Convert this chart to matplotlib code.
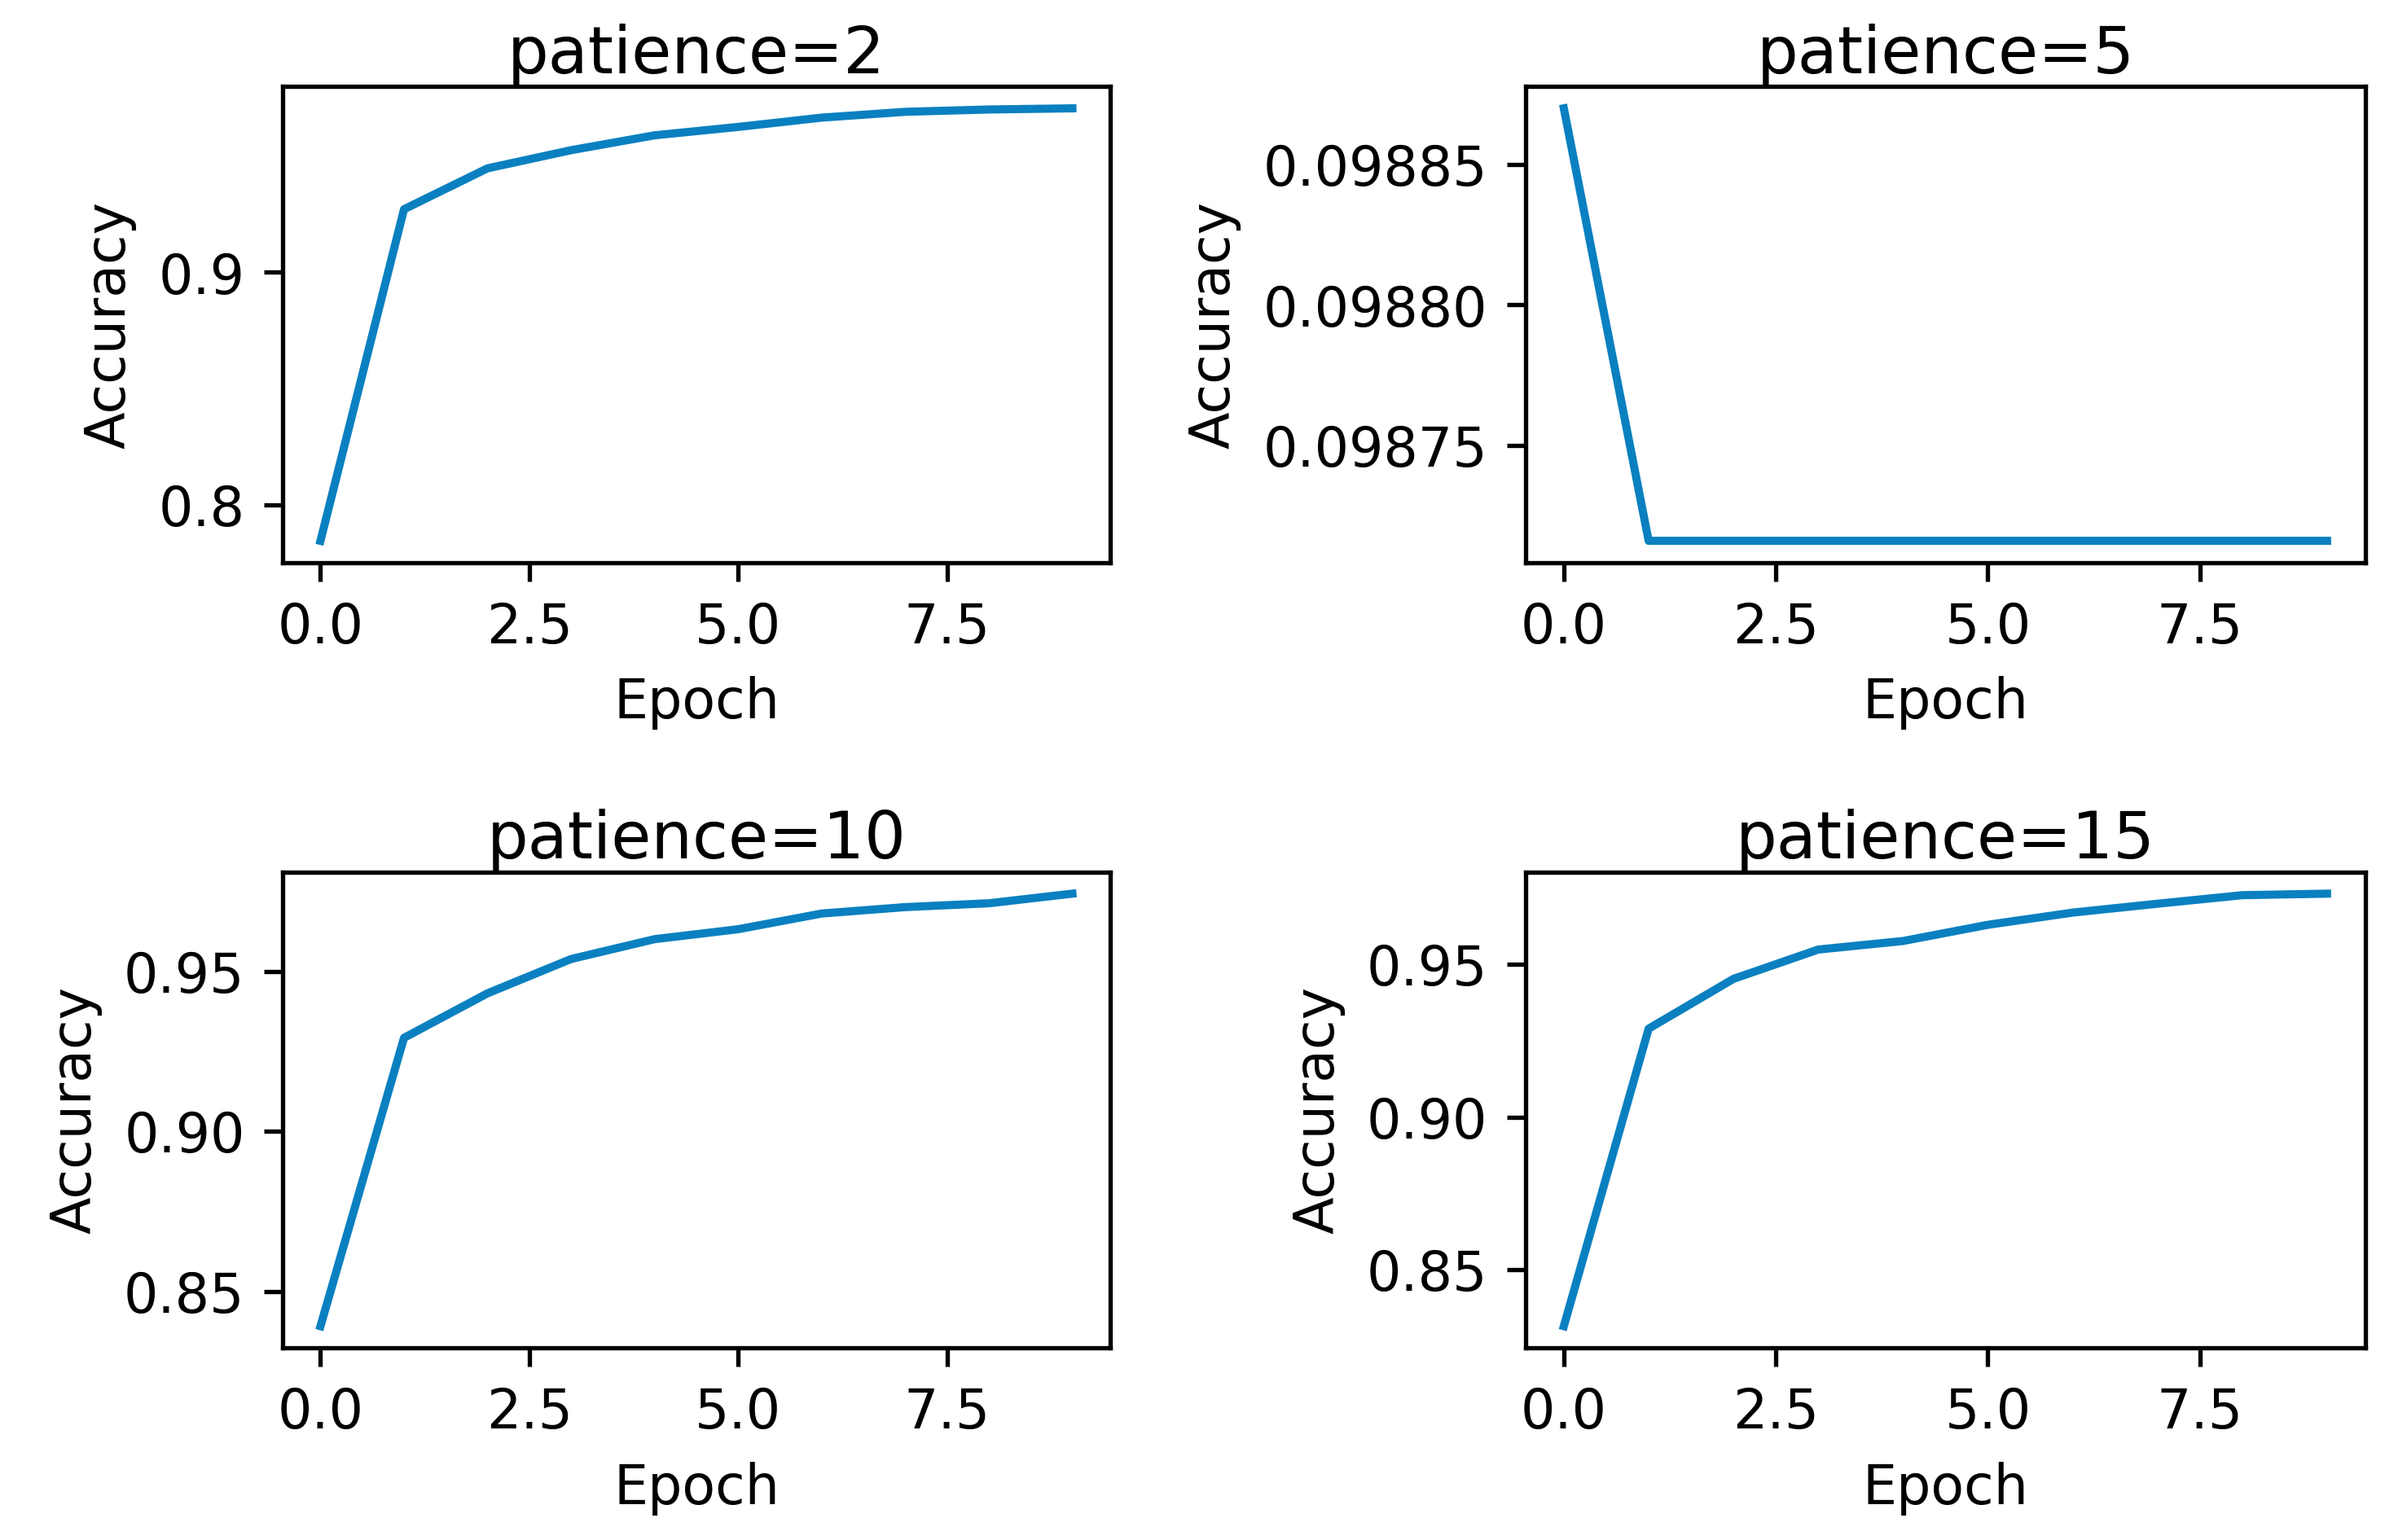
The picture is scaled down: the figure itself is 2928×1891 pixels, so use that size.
import matplotlib
matplotlib.use("Agg")
import matplotlib.pyplot as plt

epochs = list(range(10))
epoch_ticks = [0.0, 2.5, 5.0, 7.5]

acc_p2 = [0.7845, 0.9271, 0.9447, 0.9525, 0.9589, 0.9625, 0.9665, 0.9690, 0.9700, 0.9705]
acc_p5 = [0.098870, 0.098716, 0.098716, 0.098716, 0.098716,
          0.098716, 0.098716, 0.098716, 0.098716, 0.098716]
acc_p10 = [0.8392, 0.9292, 0.9431, 0.9538, 0.9600, 0.9631, 0.9680, 0.9700, 0.9712, 0.9742]
acc_p15 = [0.8315, 0.9289, 0.9452, 0.9548, 0.9576, 0.9629, 0.9669, 0.9698, 0.9726, 0.9731]

titles = ["patience=2", "patience=5", "patience=10", "patience=15"]
series = [acc_p2, acc_p5, acc_p10, acc_p15]

boxes = [[0.1186, 0.6347, 0.3468, 0.3089],
         [0.6397, 0.6347, 0.3520, 0.3089],
         [0.1186, 0.1248, 0.3468, 0.3089],
         [0.6397, 0.1248, 0.3520, 0.3089]]

line_color = "#0a80c0"

fig = plt.figure(figsize=(6.1, 3.94), dpi=480)

for box, title, acc in zip(boxes, titles, series):
    ax = fig.add_axes(box)
    ax.plot(epochs, acc, color=line_color, linewidth=1.5)
    ax.set_title(title, fontsize=12, pad=-1.5)
    ax.set_xticks(epoch_ticks)
    ax.set_xlabel("Epoch")
    ax.set_ylabel("Accuracy")
    ax.ticklabel_format(axis="y", useOffset=False)

fig.savefig("out.png", dpi=480)
